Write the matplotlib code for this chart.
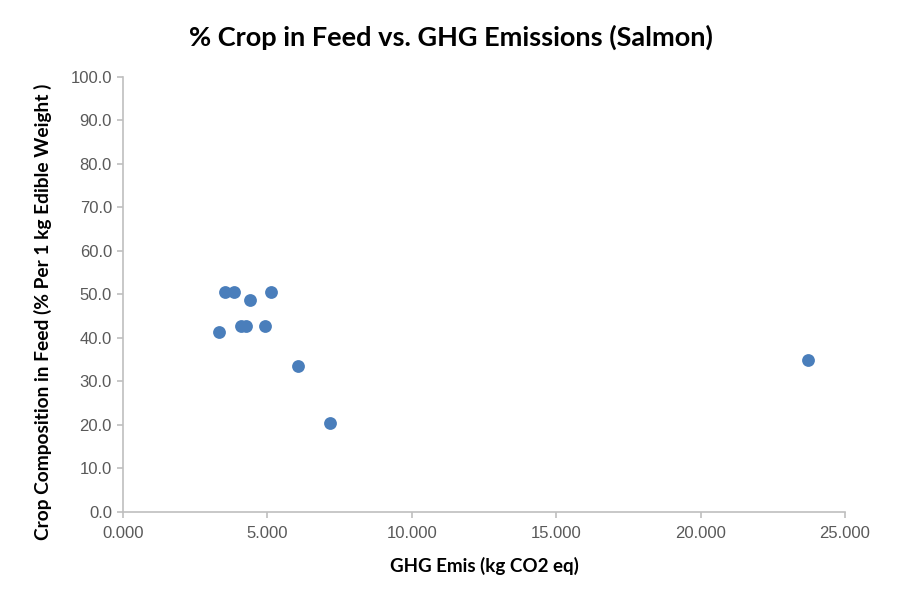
import matplotlib
matplotlib.use("Agg")
import matplotlib.pyplot as plt
from matplotlib.ticker import FormatStrFormatter, MultipleLocator

ghg = [3.52, 3.85, 4.39, 5.13, 3.33, 4.09, 4.27, 4.92, 6.05, 7.17, 23.71]
crop = [50.6, 50.6, 48.6, 50.6, 41.4, 42.8, 42.8, 42.8, 33.6, 20.3, 34.8]

fig = plt.figure(figsize=(9.02, 6.02), dpi=100)
ax = fig.add_axes([0.1364, 0.15, 0.9368 - 0.1364, 0.8726 - 0.15])
ax.scatter(ghg, crop, s=85, color="#4a7ebb", zorder=3, linewidths=0)

ax.set_xlim(0, 25)
ax.set_ylim(0, 100)
ax.xaxis.set_major_locator(MultipleLocator(5))
ax.yaxis.set_major_locator(MultipleLocator(10))
ax.xaxis.set_major_formatter(FormatStrFormatter("%.3f"))
ax.yaxis.set_major_formatter(FormatStrFormatter("%.1f"))

for s in ["top", "right"]:
    ax.spines[s].set_visible(False)
for s in ["left", "bottom"]:
    ax.spines[s].set_color("#bfbfbf")
    ax.spines[s].set_linewidth(1.2)
ax.tick_params(colors="#bfbfbf", labelcolor="#595959", labelsize=12, length=4, width=1.2, direction="out")
for lab in ax.get_xticklabels() + ax.get_yticklabels():
    lab.set_family("Liberation Sans")
ax.tick_params(axis="x", pad=6)
ax.tick_params(axis="y", pad=4)

ax.set_xlabel("GHG Emis (kg CO2 eq)", fontsize=13.5, fontweight="bold", family="Lato", labelpad=12)
fig.text(43 / 902, 1 - 312 / 602, "Crop Composition in Feed (% Per 1 kg Edible Weight )", rotation=90,
         ha="center", va="center", fontsize=13.8, fontweight="bold", family="Lato")
fig.text(0.5, 1 - 37 / 602, "% Crop in Feed vs. GHG Emissions (Salmon)", ha="center", va="center",
         fontsize=19.5, fontweight="bold", family="Lato")

fig.savefig("out.png", dpi=100)
